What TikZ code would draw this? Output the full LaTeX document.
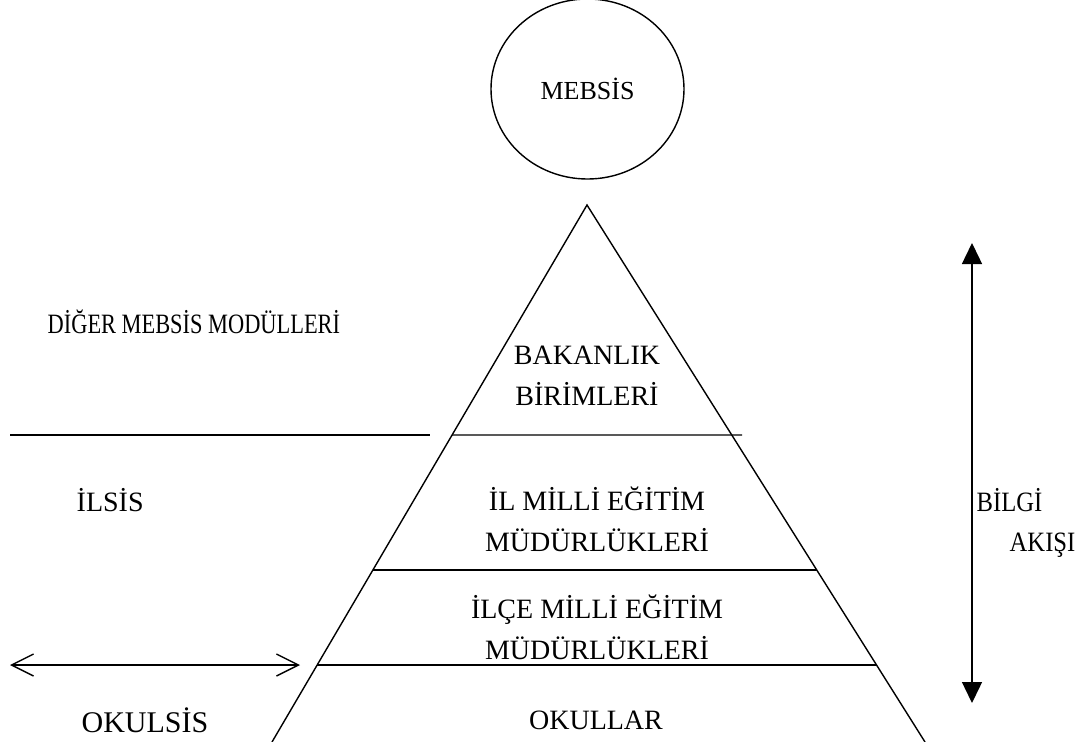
\documentclass[tikz,border=0pt]{standalone}
\usepackage{fontspec}
\setmainfont{Liberation Serif}
\newfontfamily\narrowA[FakeStretch=0.8]{Liberation Serif}
\newfontfamily\narrowB[FakeStretch=0.88]{Liberation Serif}
\usetikzlibrary{arrows.meta,calc,shapes.geometric}
\begin{document}
\begin{tikzpicture}[x=1pt,y=-1pt,line width=1.4pt,
  lbl/.style={font=\fontsize{28}{41}\selectfont,inner sep=0pt,align=center},
  small/.style={font=\fontsize{26}{30}\selectfont},
  edge/.style={line width=1.4pt},
  barb/.style={{Straight Barb[length=22pt,width=22pt]}-{Straight Barb[length=22pt,width=22pt]}},
  flow/.style={{Triangle[length=21pt,width=20pt]}-{Triangle[length=21pt,width=20pt]}}]
\useasboundingbox (0,0) rectangle (1080,742);
% MEBSIS ellipse
\node[draw,ellipse,minimum width=193,minimum height=180,inner sep=0pt,small] (mebsis) at (587.5,89) {MEBSİS};
% pyramid
\coordinate (apex) at (587,205);
\coordinate (bl) at (272,742);
\coordinate (br) at (925,742);
\draw[edge] (bl) -- (apex) -- (br);
\draw[line width=1pt,gray!50] (bl) -- (br);
% level lines
\coordinate (l1) at ($(apex)!0.4283!(bl)$);
\coordinate (r1) at (742,435);
\coordinate (l2) at ($(apex)!0.6797!(bl)$);
\coordinate (r2) at ($(apex)!0.6797!(br)$);
\coordinate (l3) at ($(apex)!0.8566!(bl)$);
\coordinate (r3) at ($(apex)!0.8566!(br)$);
\draw[edge] (l1) -- (r1);
\draw[edge] (l2) -- (r2);
\draw[edge] (l3) -- (r3);
\coordinate (sl) at (10,435);
\coordinate (sr) at (430,435);
\draw[edge] (sl) -- (sr);
% left double arrow
\coordinate (al) at (10,665);
\coordinate (ar) at (300,665);
\draw[line width=1.4pt,barb] (al) -- (ar);
% right flow arrow
\coordinate (ft) at (972,243);
\coordinate (fb) at (972,703);
\draw[line width=1.4pt,flow] (ft) -- (fb);
% labels
\node[lbl,font=\narrowA\fontsize{28}{41}\selectfont,anchor=west] (diger) at (47,322) {DİĞER MEBSİS MODÜLLERİ};
\node[lbl] (bakan) at (587,376) {BAKANLIK\\BİRİMLERİ};
\node[lbl,anchor=west] (ilsis) at (76,500) {İLSİS};
\node[lbl] (il) at (597,519) {İL MİLLİ EĞİTİM\\MÜDÜRLÜKLERİ};
\node[lbl] (ilce) at (597,627) {İLÇE MİLLİ EĞİTİM\\MÜDÜRLÜKLERİ};
\node[lbl,font=\fontsize{30}{34}\selectfont] (okulsis) at (145,720) {OKULSİS};
\node[lbl] (okullar) at (596,720) {OKULLAR};
\node[lbl,font=\narrowB\fontsize{28}{41}\selectfont,anchor=west] (bilgi) at (976,500) {BİLGİ};
\node[lbl,font=\narrowB\fontsize{28}{41}\selectfont,anchor=west] (akisi) at (1009,545) {AKIŞI};
\end{tikzpicture}
\end{document}
